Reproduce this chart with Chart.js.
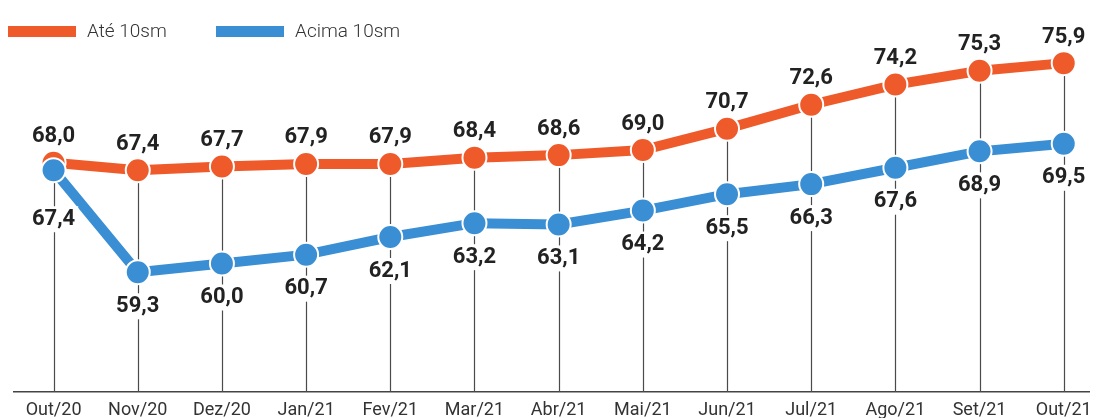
<!DOCTYPE html>
<html>
<head>
<meta charset="utf-8">
<script src="https://cdn.jsdelivr.net/npm/chart.js@4.4.1/dist/chart.umd.min.js"></script>
<style>
  body { margin: 0; background: #fff; }
  #wrap { width: 1103px; height: 418px; position: relative; }
</style>
</head>
<body>
<div id="wrap"><canvas id="grafico"></canvas></div>
<script>
const meses = ['Out/20', 'Nov/20', 'Dez/20', 'Jan/21', 'Fev/21', 'Mar/21', 'Abr/21', 'Mai/21', 'Jun/21', 'Jul/21', 'Ago/21', 'Set/21', 'Out/21'];
const ate10sm = [68.0, 67.4, 67.7, 67.9, 67.9, 68.4, 68.6, 69.0, 70.7, 72.6, 74.2, 75.3, 75.9];
const acima10sm = [67.4, 59.3, 60.0, 60.7, 62.1, 63.2, 63.1, 64.2, 65.5, 66.3, 67.6, 68.9, 69.5];

const LARANJA = '#EF5A2A';
const AZUL = '#3A8ED4';

function pontos(valores) {
    return valores.map((v, i) => ({ x: i, y: v }));
}

function fmt(v) {
    return v.toFixed(1).replace('.', ',');
}

// linhas verticais do ponto laranja até a base
const linhasVerticais = {
    id: 'linhasVerticais',
    beforeDatasetsDraw(chart) {
        const ctx = chart.ctx;
        const meta = chart.getDatasetMeta(0);
        const base = chart.chartArea.bottom;
        ctx.save();
        ctx.strokeStyle = '#4a4a4a';
        ctx.lineWidth = 1.2;
        meta.data.forEach(p => {
            ctx.beginPath();
            ctx.moveTo(Math.round(p.x) + 0.5, p.y);
            ctx.lineTo(Math.round(p.x) + 0.5, base);
            ctx.stroke();
        });
        ctx.restore();
    }
};

// rótulos dos valores
const rotulos = {
    id: 'rotulos',
    afterDatasetsDraw(chart) {
        const ctx = chart.ctx;
        ctx.save();
        ctx.font = 'bold 22px Roboto';
        ctx.textAlign = 'center';
        ctx.textBaseline = 'middle';

        chart.getDatasetMeta(0).data.forEach((p, i) => {
            ctx.fillStyle = '#222';
            ctx.fillText(fmt(ate10sm[i]), p.x, p.y - 26);
        });

        chart.getDatasetMeta(1).data.forEach((p, i) => {
            const dy = i === 0 ? 49 : 34;
            const txt = fmt(acima10sm[i]);
            const w = ctx.measureText(txt).width;
            ctx.fillStyle = '#fff';
            ctx.fillRect(p.x - w / 2 - 3, p.y + dy - 13, w + 6, 26);
            ctx.fillStyle = '#222';
            ctx.fillText(txt, p.x, p.y + dy);
        });
        ctx.restore();
    }
};

// legenda no topo
const legenda = {
    id: 'legenda',
    afterDraw(chart) {
        const ctx = chart.ctx;
        const itens = [
            { x: 8, texto: chart.data.datasets[0].label, cor: LARANJA },
            { x: 216, texto: chart.data.datasets[1].label, cor: AZUL }
        ];
        ctx.save();
        ctx.font = '300 19px Roboto';
        ctx.textBaseline = 'middle';
        itens.forEach(it => {
            ctx.fillStyle = it.cor;
            ctx.fillRect(it.x, 26, 68, 11);
            ctx.fillStyle = '#333';
            ctx.fillText(it.texto, it.x + 79, 32);
        });
        ctx.restore();
    }
};

new Chart(document.getElementById('grafico'), {
    type: 'line',
    data: {
        datasets: [{
            label: 'Até 10sm',
            data: pontos(ate10sm),
            borderColor: LARANJA,
            backgroundColor: LARANJA,
            borderWidth: 10,
            pointRadius: 12,
            pointBorderColor: '#fff',
            pointBorderWidth: 2,
            order: 1,
            clip: false
        }, {
            label: 'Acima 10sm',
            data: pontos(acima10sm),
            borderColor: AZUL,
            backgroundColor: AZUL,
            borderWidth: 10,
            pointRadius: 12,
            pointBorderColor: '#fff',
            pointBorderWidth: 2,
            order: 0,
            clip: false
        }]
    },
    options: {
        responsive: true,
        maintainAspectRatio: false,
        animation: false,
        events: [],
        layout: { padding: { left: 12, right: 8, top: 0, bottom: 0 } },
        scales: {
            x: {
                type: 'linear',
                min: -0.47,
                max: 12.3,
                afterBuildTicks: s => { s.ticks = meses.map((m, i) => ({ value: i })); },
                afterFit: s => { s.height = 26; },
                grid: { display: false, drawTicks: false },
                border: { display: true, color: '#444', width: 1.5 },
                ticks: {
                    autoSkip: false,
                    maxRotation: 0,
                    padding: 8,
                    color: '#333',
                    font: { family: 'Roboto', size: 18 },
                    callback: v => meses[v] ?? ''
                }
            },
            y: {
                display: false,
                min: 49.8,
                max: 79.8
            }
        },
        plugins: {
            legend: { display: false },
            tooltip: { enabled: false }
        }
    },
    plugins: [linhasVerticais, rotulos, legenda]
});
</script>
</body>
</html>
